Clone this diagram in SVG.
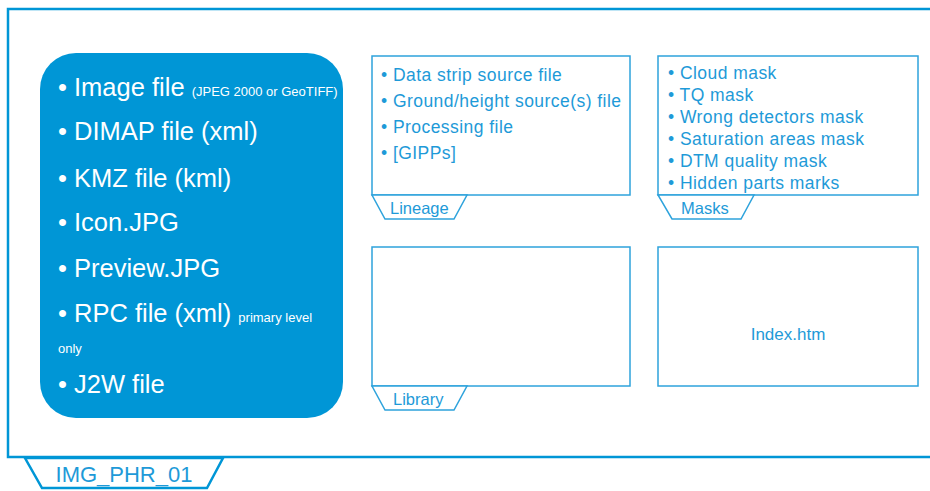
<svg xmlns="http://www.w3.org/2000/svg" width="930" height="491" viewBox="0 0 930 491">
<style>
.frame{fill:#fff;stroke:#0096d6;stroke-width:2.5}
.box{fill:#fff;stroke:#2ea3dc;stroke-width:1.5}
.tab{fill:#fff;stroke:#2ea3dc;stroke-width:1.5}
.t{font-family:"Liberation Sans",Arial,sans-serif;fill:#1e9ad8;font-size:16.5px}
.l{font-size:17.5px;letter-spacing:0.45px}
.w{font-family:"Liberation Sans",Arial,sans-serif;fill:#fff;font-size:25.5px}
.ws{font-size:13px}
</style>
<rect width="930" height="491" fill="#fff"/>
<g id="outer">
<rect class="frame" x="8" y="9" width="940" height="448"/>
<polygon class="frame" points="25,458 223,458 207,488 42,488"/>
<text class="t" x="124" y="482" text-anchor="middle" style="font-size:22px">IMG_PHR_01</text>
</g>
<g id="files">
<rect x="40" y="53" width="303" height="365" rx="36" fill="#0096d6"/>
<text class="w" x="58" y="96">• Image file <tspan class="ws">(JPEG 2000 or GeoTIFF)</tspan></text>
<text class="w" x="58" y="140">• DIMAP file (xml)</text>
<text class="w" x="58" y="187">• KMZ file (kml)</text>
<text class="w" x="58" y="231">• Icon.JPG</text>
<text class="w" x="58" y="277">• Preview.JPG</text>
<text class="w" x="58" y="322">• RPC file (xml) <tspan class="ws">primary level</tspan></text>
<text class="w ws" x="58" y="353">only</text>
<text class="w" x="58" y="393">• J2W file</text>
</g>
<g id="lineage">
<rect class="box" x="372" y="56" width="258" height="139"/>
<polygon class="tab" points="372,195 467,195 454,219 385,219"/>
<text class="t" x="390" y="214">Lineage</text>
<text class="t l" x="381" y="81">• Data strip source file</text>
<text class="t l" x="381" y="107">• Ground/height source(s) file</text>
<text class="t l" x="381" y="133">• Processing file</text>
<text class="t l" x="381" y="159">• [GIPPs]</text>
</g>
<g id="masks">
<rect class="box" x="658" y="56" width="260" height="139"/>
<polygon class="tab" points="658,195 754,195 741,219 672,219"/>
<text class="t" x="681" y="214">Masks</text>
<text class="t l" x="668" y="79">• Cloud mask</text>
<text class="t l" x="668" y="101">• TQ mask</text>
<text class="t l" x="668" y="123">• Wrong detectors mask</text>
<text class="t l" x="668" y="145">• Saturation areas mask</text>
<text class="t l" x="668" y="167">• DTM quality mask</text>
<text class="t l" x="668" y="189">• Hidden parts marks</text>
</g>
<g id="library">
<rect class="box" x="372" y="247" width="258" height="139"/>
<polygon class="tab" points="372,386 467,386 454,410 385,410"/>
<text class="t" x="393" y="405">Library</text>
</g>
<g id="index">
<rect class="box" x="658" y="247" width="260" height="139"/>
<text class="t" x="788" y="340" text-anchor="middle" style="font-size:17px">Index.htm</text>
</g>
<g id="connectors"></g>
</svg>
